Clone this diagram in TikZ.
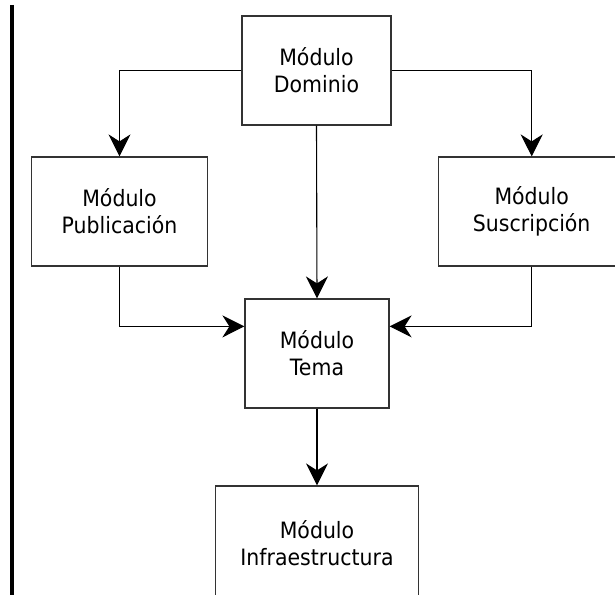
\documentclass[tikz,border=0pt]{standalone}
\usepackage{fontspec}
\setmainfont[FakeStretch=0.91]{DejaVu Sans}
\usetikzlibrary{arrows.meta,calc}
\tikzset{
  modbox/.style={draw=black!80, line width=1.2pt, rectangle, inner sep=0pt,
    align=center, font=\fontsize{22.5}{27}\selectfont},
  conn/.style={draw=black, line width=1.1pt, -{Stealth[length=22pt,width=22pt,inset=7pt]}}
}
\begin{document}
\begin{tikzpicture}[x=1pt,y=-1pt]
\useasboundingbox (0,0) rectangle (615,594);
\clip (0,0) rectangle (615,594);
\fill[white] (0,0) rectangle (615,594);
\draw[line width=4pt] (12,5) -- (12,600);
\node[modbox, minimum width=149pt, minimum height=109pt] (dom) at (316.5,70.5) {Módulo\\Dominio};
\node[modbox, minimum width=176pt, minimum height=109pt] (pub) at (119.5,211.5) {Módulo\\Publicación};
\node[modbox, minimum width=186pt, minimum height=109pt] (sus) at (531.7,211.5) {Módulo\\Suscripción};
\node[modbox, minimum width=144pt, minimum height=109pt] (tema) at (317,353.5) {Módulo\\Tema};
\node[modbox, minimum width=203pt, minimum height=114pt] (infra) at (317,543) {Módulo\\Infraestructura};
\draw[conn] (dom.west) -| (pub.north);
\draw[conn] (dom.east) -| (sus.north);
\draw[conn] (dom.south) -- (tema.north);
\draw[conn] (pub.south) |- ([yshift=-28pt]tema.north west);
\draw[conn] (sus.south) |- ([yshift=-28pt]tema.north east);
\draw[conn] (tema.south) -- (infra.north);
\end{tikzpicture}
\end{document}
